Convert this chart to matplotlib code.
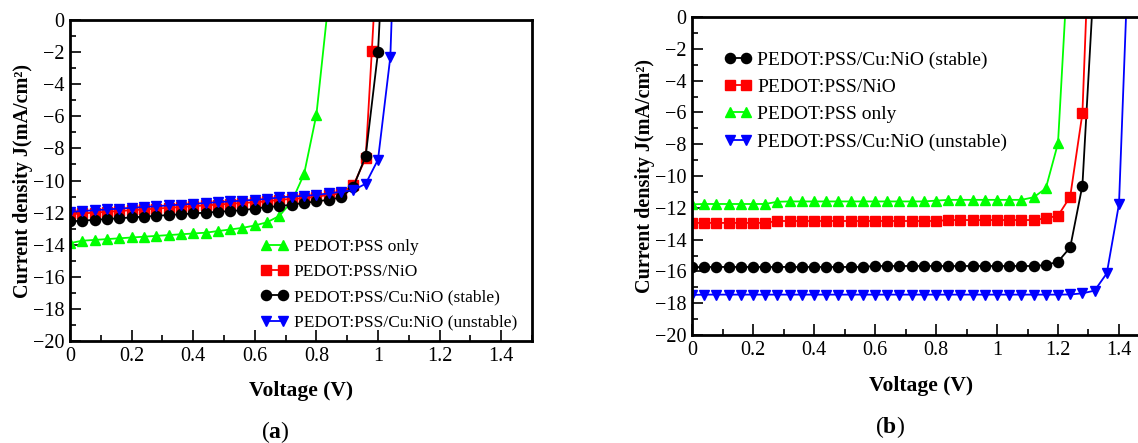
import numpy as np
import matplotlib
matplotlib.use('Agg')
import matplotlib.pyplot as plt
from matplotlib.ticker import MultipleLocator

plt.rcParams['font.family'] = ['Liberation Serif', 'DejaVu Serif']
plt.rcParams['mathtext.fontset'] = 'custom'
plt.rcParams['mathtext.rm'] = 'Liberation Serif'
plt.rcParams['mathtext.bf'] = 'Liberation Serif:bold'

#panel (a) data
a_green_v = [0, 0.04, 0.08, 0.12, 0.16, 0.20, 0.24, 0.28, 0.32, 0.36, 0.40, 0.44, 0.48,
             0.52, 0.56, 0.60, 0.64, 0.68, 0.72, 0.76, 0.80, 0.84]
a_green_j = [-13.9, -13.75, -13.7, -13.65, -13.6, -13.55, -13.5, -13.45, -13.4, -13.35, -13.3,
             -13.25, -13.15, -13.05, -12.95, -12.8, -12.6, -12.2, -11.3, -9.6, -5.9, 1.3]

a_red_v = [0, 0.04, 0.08, 0.12, 0.16, 0.20, 0.24, 0.28, 0.32, 0.36, 0.40, 0.44, 0.48, 0.52,
           0.56, 0.60, 0.64, 0.68, 0.72, 0.76, 0.80, 0.84, 0.88, 0.92, 0.96, 0.98, 1.00]
a_red_j = [-12.1, -12.05, -12.0, -11.95, -11.9, -11.85, -11.8, -11.75, -11.7, -11.65, -11.6,
           -11.55, -11.5, -11.45, -11.4, -11.35, -11.3, -11.2, -11.15, -11.1, -11.0, -10.9,
           -10.8, -10.3, -8.6, -1.9, 5.0]

a_black_v = [0, 0.04, 0.08, 0.12, 0.16, 0.20, 0.24, 0.28, 0.32, 0.36, 0.40, 0.44, 0.48, 0.52,
             0.56, 0.60, 0.64, 0.68, 0.72, 0.76, 0.80, 0.84, 0.88, 0.92, 0.96, 1.00, 1.04]
a_black_j = [-12.55, -12.5, -12.45, -12.4, -12.35, -12.3, -12.25, -12.2, -12.15, -12.1, -12.05,
             -12.0, -11.95, -11.9, -11.85, -11.75, -11.65, -11.6, -11.5, -11.4, -11.3, -11.2,
             -11.05, -10.4, -8.47, -2.0, 13.0]

a_blue_v = [0, 0.04, 0.08, 0.12, 0.16, 0.20, 0.24, 0.28, 0.32, 0.36, 0.40, 0.44, 0.48, 0.52,
            0.56, 0.60, 0.64, 0.68, 0.72, 0.76, 0.80, 0.84, 0.88, 0.92, 0.96, 1.00, 1.04, 1.08]
a_blue_j = [-11.95, -11.9, -11.85, -11.8, -11.75, -11.7, -11.65, -11.6, -11.55, -11.5, -11.45,
            -11.4, -11.35, -11.3, -11.25, -11.2, -11.15, -11.05, -11.0, -10.95, -10.9, -10.8,
            -10.7, -10.6, -10.2, -8.7, -2.3, 20.0]

#panel (b) data
b_v = [0, 0.04, 0.08, 0.12, 0.16, 0.20, 0.24, 0.28, 0.32, 0.36, 0.40, 0.44, 0.48, 0.52,
       0.56, 0.60, 0.64, 0.68, 0.72, 0.76, 0.80, 0.84, 0.88, 0.92, 0.96, 1.00, 1.04, 1.08,
       1.12, 1.16, 1.20, 1.24, 1.28, 1.32, 1.36, 1.40, 1.44]
b_black_j = [-15.74, -15.72, -15.72, -15.72, -15.72, -15.72, -15.72, -15.72, -15.72, -15.72,
             -15.72, -15.72, -15.72, -15.72, -15.72, -15.66, -15.66, -15.66, -15.66, -15.66,
             -15.66, -15.66, -15.66, -15.66, -15.66, -15.66, -15.66, -15.66, -15.66, -15.6,
             -15.39, -14.49, -10.6, 3.1]
b_red_j = [-12.95, -12.95, -12.95, -12.95, -12.95, -12.95, -12.95, -12.83, -12.83, -12.83,
           -12.83, -12.83, -12.83, -12.83, -12.83, -12.83, -12.83, -12.83, -12.83, -12.83,
           -12.83, -12.77, -12.77, -12.77, -12.77, -12.77, -12.77, -12.77, -12.77, -12.66,
           -12.5, -11.3, -6.06, 14.0]
b_green_j = [-11.78, -11.76, -11.76, -11.76, -11.76, -11.76, -11.76, -11.62, -11.6, -11.6,
             -11.6, -11.6, -11.6, -11.6, -11.6, -11.6, -11.6, -11.6, -11.6, -11.6, -11.55,
             -11.5, -11.5, -11.5, -11.5, -11.5, -11.5, -11.5, -11.34, -10.78, -7.94, 5.9]
b_blue_j = [-17.48, -17.46, -17.46, -17.46, -17.46, -17.46, -17.46, -17.46, -17.46, -17.46,
            -17.46, -17.46, -17.46, -17.46, -17.46, -17.46, -17.46, -17.46, -17.46, -17.46,
            -17.46, -17.46, -17.46, -17.46, -17.46, -17.46, -17.46, -17.46, -17.46, -17.46,
            -17.46, -17.45, -17.38, -17.21, -16.12, -11.76, 8.7]

labels = {'green': 'PEDOT:PSS only', 'red': 'PEDOT:PSS/NiO',
          'black': 'PEDOT:PSS/Cu:NiO (stable)', 'blue': 'PEDOT:PSS/Cu:NiO (unstable)'}
colors = {'green': '#00ff00', 'red': '#ff0000', 'black': '#000000', 'blue': '#0000ff'}
markers = {'green': '^', 'red': 's', 'black': 'o', 'blue': 'v'}


def style_axes(ax, xpad):
    ax.set_xlim(0, 1.5)
    ax.set_ylim(-20, 0)
    ax.xaxis.set_minor_locator(MultipleLocator(0.1))
    ax.yaxis.set_major_locator(MultipleLocator(2))
    ax.yaxis.set_minor_locator(MultipleLocator(1))
    ax.set_xticks([0, 0.2, 0.4, 0.6, 0.8, 1.0, 1.2, 1.4])
    ax.set_xticklabels(['0', '0.2', '0.4', '0.6', '0.8', '1', '1.2', '1.4'])
    ax.tick_params(which='both', direction='in', top=False, right=False, labelsize=14.5, width=1.2)
    ax.tick_params(which='major', length=8, pad=4)
    ax.tick_params(which='minor', length=4)
    for s in ax.spines.values():
        s.set_linewidth(2.0)
    ax.set_xlabel('Voltage (V)', fontsize=15.5, fontweight='bold', labelpad=xpad)
    ax.set_ylabel('Current density J(mA/cm²)', fontsize=14.5, fontweight='bold', labelpad=0)


fig = plt.figure(figsize=(11.38, 4.43), dpi=100)

#left panel
ax1 = fig.add_axes([0.0615, 0.2302, 0.406, 0.7246])
a_series = [('green', a_green_v, a_green_j), ('red', a_red_v, a_red_j),
            ('black', a_black_v, a_black_j), ('blue', a_blue_v, a_blue_j)]
for key, v, j in a_series:
    ax1.plot(v, j, color=colors[key], marker=markers[key], markersize=7.3, linewidth=1.3,
             label=labels[key])
style_axes(ax1, 11)
ax1.legend(loc='lower left', bbox_to_anchor=(0.39, 0.0), frameon=False, fontsize=12.5,
           numpoints=2, handlelength=1.6, handletextpad=0.3, labelspacing=0.52,
           borderaxespad=0.2)

#right panel (runs past the right edge of the figure)
ax2 = fig.add_axes([0.6081, 0.2438, 0.402, 0.7178])
b_series = [('black', b_black_j), ('red', b_red_j), ('green', b_green_j), ('blue', b_blue_j)]
for key, j in b_series:
    ax2.plot(b_v[:len(j)], j, color=colors[key], marker=markers[key], markersize=7.3,
             linewidth=1.3, label=labels[key])
style_axes(ax2, 12)
ax2.legend(loc='upper left', bbox_to_anchor=(0.045, 0.93), frameon=False, fontsize=14,
           numpoints=2, handlelength=1.4, handletextpad=0.3, labelspacing=0.5,
           borderaxespad=0.2)

fig.text(0.2417, 0.025, r'($\mathbf{a}$)', fontsize=17, ha='center', va='center')
fig.text(0.782, 0.035, r'($\mathbf{b}$)', fontsize=17, ha='center', va='center')

fig.savefig('out.png', dpi=100)
